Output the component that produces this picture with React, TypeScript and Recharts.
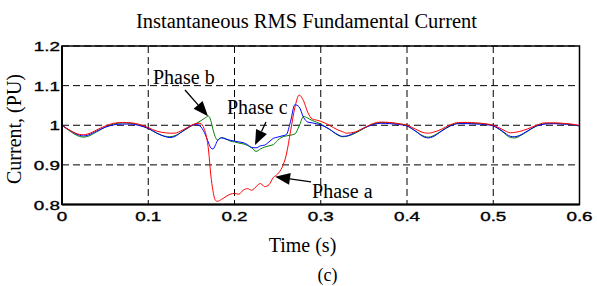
import React from "react";
import {
  LineChart,
  Line,
  XAxis,
  YAxis,
  CartesianGrid,
  ReferenceArea,
  ReferenceLine,
  ReferenceDot,
} from "recharts";

// sample times (s), denser around the fault
const times = [
  0, 0.01, 0.02, 0.025, 0.03, 0.04, 0.05, 0.06, 0.07, 0.08, 0.09, 0.1, 0.11, 0.12, 0.125, 0.13, 0.14, 0.15,
  0.155, 0.16, 0.165, 0.17, 0.1725, 0.175, 0.1775, 0.18,
  0.185, 0.19, 0.195, 0.2, 0.205, 0.21, 0.215, 0.22, 0.225, 0.23, 0.235, 0.24, 0.245, 0.25, 0.255, 0.26,
  0.265, 0.27, 0.275, 0.28, 0.285, 0.29, 0.295, 0.3,
  0.31, 0.32, 0.325, 0.33, 0.34, 0.35, 0.36, 0.37, 0.38, 0.39, 0.4,
  0.41, 0.42, 0.425, 0.43, 0.44, 0.45, 0.46, 0.47, 0.48, 0.49, 0.5,
  0.51, 0.52, 0.525, 0.53, 0.54, 0.55, 0.56, 0.57, 0.58, 0.59, 0.6,
];

const phaseA = [
  1.0, 0.986, 0.977, 0.976, 0.978, 0.988, 0.998, 1.005, 1.007, 1.006, 1.002, 0.994, 0.985, 0.981, 0.98, 0.98, 0.988, 1.0,
  1.004, 1.005, 0.99, 0.935, 0.875, 0.835, 0.812, 0.808,
  0.813, 0.82, 0.826, 0.828, 0.826, 0.836, 0.84, 0.836, 0.845, 0.853, 0.845, 0.85, 0.868, 0.877, 0.893, 0.925,
  0.985, 1.045, 1.076, 1.062, 1.032, 1.016, 1.013, 1.01,
  1.0, 0.988, 0.984, 0.98, 0.983, 0.993, 1.004, 1.008, 1.007, 1.004, 1.0,
  0.99, 0.981, 0.98, 0.982, 0.99, 1.001, 1.007, 1.007, 1.006, 1.004, 1.0,
  0.99, 0.981, 0.982, 0.984, 0.991, 1.0, 1.006, 1.006, 1.005, 1.003, 1.0,
];

const phaseB = [
  1.0, 0.984, 0.972, 0.97, 0.972, 0.983, 0.995, 1.003, 1.006, 1.005, 1.0, 0.992, 0.98, 0.972, 0.971, 0.973, 0.985, 0.998,
  1.004, 1.01, 1.017, 1.023, 1.012, 0.99, 0.972, 0.963,
  0.969, 0.966, 0.96, 0.958, 0.955, 0.953, 0.949, 0.943, 0.934, 0.94, 0.945, 0.948, 0.951, 0.962, 0.97, 0.973,
  0.975, 0.978, 0.998, 1.022, 1.018, 1.012, 1.008, 1.003,
  0.99, 0.975, 0.971, 0.972, 0.98, 0.992, 1.002, 1.007, 1.006, 1.004, 0.999,
  0.985, 0.972, 0.97, 0.973, 0.986, 0.999, 1.005, 1.005, 1.005, 1.003, 0.999,
  0.985, 0.969, 0.968, 0.972, 0.985, 0.998, 1.004, 1.005, 1.004, 1.002, 0.998,
];

const phaseC = [
  1.0, 0.986, 0.975, 0.973, 0.975, 0.985, 0.995, 1.001, 1.003, 1.003, 0.999, 0.992, 0.98, 0.971, 0.969, 0.971, 0.985, 0.999,
  1.002, 0.998, 0.982, 0.955, 0.943, 0.94, 0.948, 0.96,
  0.968, 0.965, 0.962, 0.96, 0.958, 0.956, 0.951, 0.944, 0.943, 0.948, 0.95, 0.958, 0.967, 0.97, 0.973, 0.976,
  1.01, 1.052, 1.046, 1.02, 1.008, 1.006, 1.004, 1.001,
  0.99, 0.976, 0.972, 0.973, 0.982, 0.993, 1.001, 1.005, 1.004, 1.002, 0.998,
  0.985, 0.97, 0.968, 0.971, 0.985, 0.998, 1.004, 1.004, 1.003, 1.002, 0.998,
  0.986, 0.972, 0.971, 0.974, 0.986, 0.998, 1.003, 1.004, 1.003, 1.002, 0.998,
];

const xTicks = [0, 0.1, 0.2, 0.3, 0.4, 0.5, 0.6];
const yTicks = [0.8, 0.9, 1, 1.1, 1.2];

// annotations: label anchor and arrow tail -> tip, in data units
const notes = [
  { label: "Phase b", at: [0.1055, 1.105], from: [0.1426, 1.089], to: [0.1693, 1.023] },
  { label: "Phase c", at: [0.1913, 1.028], from: [0.2365, 1.008], to: [0.2238, 0.95] },
  { label: "Phase a", at: [0.2899, 0.817], from: [0.2887, 0.857], to: [0.247, 0.87] },
];

const data = times.map((t, i) => ({ t, a: phaseA[i], b: phaseB[i], c: phaseC[i] }));

const SERIF = "'Liberation Serif', 'Times New Roman', serif";
const SANS = "'Liberation Sans', Arial, Helvetica, sans-serif";

const renderXTick = (p: any) => (
  <text
    key={"x" + p.payload.value}
    transform={`translate(${p.x},${p.y + 16.5}) scale(1.45,1)`}
    textAnchor="middle"
    fontFamily={SANS}
    fontSize={13}
    fill="#000"
    stroke="#000"
    strokeWidth={0.35}
  >
    {p.payload.value}
  </text>
);

const renderYTick = (p: any) => (
  <text
    key={"y" + p.payload.value}
    transform={`translate(${p.x},${p.y + 5}) scale(1.45,1)`}
    textAnchor="end"
    fontFamily={SANS}
    fontSize={13}
    fill="#000"
    stroke="#000"
    strokeWidth={0.35}
  >
    {p.payload.value}
  </text>
);

const Arrow = (props: any) => {
  const { x1, y1, x2, y2 } = props;
  const dx = x2 - x1;
  const dy = y2 - y1;
  const len = Math.sqrt(dx * dx + dy * dy) || 1;
  const ux = dx / len;
  const uy = dy / len;
  const hl = 15;
  const hw = 6;
  const bx = x2 - ux * hl;
  const by = y2 - uy * hl;
  const pts = `${x2},${y2} ${bx - uy * hw},${by + ux * hw} ${bx + uy * hw},${by - ux * hw}`;
  return (
    <g>
      <line x1={x1} y1={y1} x2={bx} y2={by} stroke="#000" strokeWidth={1.3} />
      <polygon points={pts} fill="#000" />
    </g>
  );
};

const noteText = (label: string) => (props: any) => (
  <text x={props.cx} y={props.cy} fontFamily={SERIF} fontSize={20} fill="#000">
    {label}
  </text>
);

export default function App() {
  return (
    <div style={{ position: "absolute", left: 0, top: 0, width: 597, height: 286, background: "#fff" }}>
      <LineChart
        width={597}
        height={286}
        data={data}
        margin={{ top: 46, right: 17.5, bottom: 51.5, left: 0 }}
      >
        <CartesianGrid stroke="#000" strokeDasharray="7 4" strokeWidth={1} />
        <XAxis
          dataKey="t"
          type="number"
          domain={[0, 0.6]}
          ticks={xTicks}
          interval={0}
          height={30}
          tickSize={0}
          tickMargin={0}
          tickLine={false}
          axisLine={{ stroke: "#000", strokeWidth: 2 }}
          tick={renderXTick}
          allowDataOverflow
        />
        <YAxis
          type="number"
          domain={[0.8, 1.2]}
          ticks={yTicks}
          interval={0}
          width={62}
          tickSize={0}
          tickMargin={2}
          tickLine={false}
          axisLine={{ stroke: "#000", strokeWidth: 2 }}
          tick={renderYTick}
          allowDataOverflow
        />
        <ReferenceArea x1={0} x2={0.6} y1={0.8} y2={1.2} fill="none" stroke="#000" strokeWidth={1.5} />
        <Line type="monotone" dataKey="b" stroke="#008000" strokeWidth={1} dot={false} isAnimationActive={false} />
        <Line type="monotone" dataKey="c" stroke="#0000ff" strokeWidth={1} dot={false} isAnimationActive={false} />
        <Line type="monotone" dataKey="a" stroke="#ff0000" strokeWidth={1} dot={false} isAnimationActive={false} />
        {notes.map((n) => (
          <ReferenceLine
            key={n.label + "-arrow"}
            segment={[
              { x: n.from[0], y: n.from[1] },
              { x: n.to[0], y: n.to[1] },
            ]}
            shape={Arrow}
          />
        ))}
        {notes.map((n) => (
          <ReferenceDot key={n.label} x={n.at[0]} y={n.at[1]} r={0} shape={noteText(n.label)} />
        ))}
      </LineChart>
      <svg
        width={597}
        height={286}
        style={{ position: "absolute", left: 0, top: 0, pointerEvents: "none" }}
      >
        <text x={306.5} y={28} textAnchor="middle" fontFamily={SERIF} fontSize={20.5} fill="#000">
          Instantaneous RMS Fundamental Current
        </text>
        <text
          transform="translate(21,129) rotate(-90)"
          textAnchor="middle"
          fontFamily={SERIF}
          fontSize={20}
          fill="#000"
        >
          Current, (PU)
        </text>
        <text x={302.5} y={252} textAnchor="middle" fontFamily={SERIF} fontSize={20} fill="#000">
          Time (s)
        </text>
        <text x={327.5} y={281} textAnchor="middle" fontFamily={SERIF} fontSize={18} fill="#000">
          (c)
        </text>
      </svg>
    </div>
  );
}
